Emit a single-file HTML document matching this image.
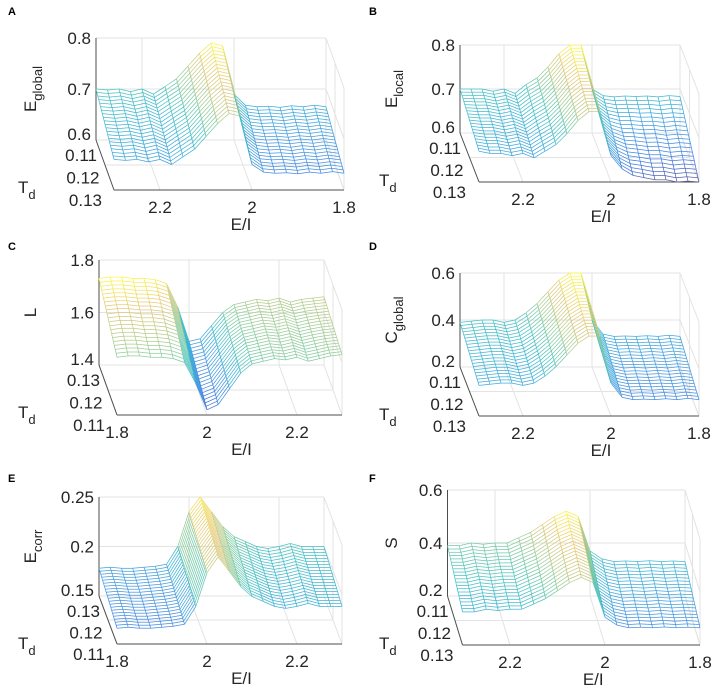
<!DOCTYPE html>
<html><head><meta charset="utf-8"><style>
html,body{margin:0;padding:0;background:#fff;}
svg{display:block;font-family:"Liberation Sans",Arial,sans-serif;}
.tk{font-size:17px;fill:#262626;}
.lbl{font-size:17px;fill:#262626;}
.pl{font-size:11px;font-weight:bold;fill:#000;}
</style></head><body>
<svg id="fig" width="722" height="698" viewBox="0 0 722 698"></svg>
<script>
const eiValues=[1.8,1.825,1.85,1.875,1.9,1.925,1.95,1.975,2.0,2.025,2.05,2.075,2.1,2.125,2.15,2.175,2.2,2.225,2.25,2.275,2.3];
const tdValues=[0.11,0.111,0.112,0.113,0.114,0.115,0.116,0.117,0.118,0.119,0.12,0.121,0.122,0.123,0.124,0.125,0.126,0.127,0.128,0.129,0.13];
const eiTicks=[1.8,2,2.2];
const tdTicks=[0.11,0.12,0.13];
// surface values at Td=0.11 and Td=0.13 for each panel (E/I ascending)
const zA011=[0.665,0.668,0.665,0.667,0.664,0.666,0.665,0.668,0.69,0.785,0.79,0.77,0.745,0.72,0.705,0.69,0.70,0.695,0.70,0.698,0.70];
const zA013=[0.633,0.636,0.633,0.635,0.632,0.634,0.633,0.635,0.65,0.745,0.75,0.73,0.705,0.68,0.665,0.65,0.66,0.655,0.66,0.658,0.66];
const zB011=[0.683,0.685,0.682,0.684,0.683,0.684,0.682,0.685,0.70,0.80,0.80,0.78,0.75,0.725,0.71,0.69,0.70,0.695,0.70,0.70,0.70];
const zB013=[0.60,0.602,0.60,0.605,0.605,0.61,0.615,0.63,0.66,0.76,0.76,0.74,0.71,0.685,0.67,0.655,0.665,0.66,0.665,0.665,0.67];
const zC013=[1.73,1.735,1.735,1.73,1.73,1.725,1.71,1.62,1.49,1.50,1.55,1.60,1.63,1.64,1.65,1.645,1.655,1.64,1.65,1.655,1.66];
const zC011=[1.62,1.625,1.625,1.62,1.62,1.615,1.60,1.52,1.42,1.44,1.50,1.56,1.595,1.605,1.615,1.61,1.62,1.605,1.615,1.625,1.63];
const zD011=[0.33,0.335,0.33,0.333,0.33,0.332,0.33,0.34,0.40,0.60,0.60,0.57,0.52,0.47,0.43,0.40,0.39,0.40,0.40,0.395,0.39];
const zD013=[0.27,0.275,0.27,0.273,0.27,0.272,0.27,0.28,0.34,0.54,0.54,0.51,0.46,0.41,0.37,0.34,0.33,0.34,0.34,0.335,0.33];
const zE013=[0.178,0.179,0.178,0.178,0.179,0.18,0.182,0.20,0.235,0.25,0.235,0.22,0.21,0.205,0.20,0.198,0.20,0.203,0.20,0.20,0.20];
const zE011=[0.166,0.167,0.166,0.166,0.167,0.168,0.170,0.188,0.222,0.238,0.223,0.208,0.198,0.193,0.188,0.186,0.188,0.191,0.188,0.188,0.188];
const zF011=[0.33,0.332,0.33,0.333,0.33,0.332,0.33,0.34,0.37,0.50,0.52,0.50,0.47,0.44,0.42,0.40,0.40,0.395,0.40,0.39,0.39];
const zF013=[0.265,0.267,0.265,0.268,0.265,0.267,0.265,0.275,0.305,0.435,0.455,0.435,0.405,0.375,0.355,0.335,0.335,0.33,0.335,0.325,0.325];
const zTicksA=[0.6,0.7,0.8], zTicksB=[0.6,0.7,0.8], zTicksC=[1.4,1.6,1.8], zTicksD=[0.2,0.4,0.6], zTicksE=[0.15,0.2,0.25], zTicksF=[0.2,0.4,0.6];

const NS="http://www.w3.org/2000/svg";
const svg=document.getElementById('fig');
function mk(tag,attrs,parent){const e=document.createElementNS(NS,tag);for(const k in attrs)e.setAttribute(k,attrs[k]);(parent||svg).appendChild(e);return e;}
const parula=[[53,42,135],[15,92,221],[18,125,216],[7,156,207],[21,177,180],[89,189,140],[165,190,107],[225,185,82],[249,251,14]];
function cmap(v){v=Math.max(0,Math.min(1,v));const p=v*8,i=Math.min(7,Math.floor(p)),f=p-i;const a=parula[i],b=parula[i+1];
 return 'rgb('+a.map((c,k)=>{const c0=c+(b[k]-c)*f;return Math.round(c0+(255-c0)*0.22);}).join(',')+')';}

const panels=[
 {id:'a',letter:'A',lx:8,ly:15,z011:zA011,z013:zA013,zt:zTicksA,zlab:'E',zsub:'global',rev:true,x0:234,sx:460,floorY:140,topY:38,dx:18,dy:50,tdBack:0.11},
 {id:'b',letter:'B',lx:369,ly:15,z011:zB011,z013:zB013,zt:zTicksB,zlab:'E',zsub:'local',rev:true,x0:592,sx:440,floorY:133,topY:45,dx:19,dy:49,tdBack:0.11},
 {id:'c',letter:'C',lx:8,ly:250,z011:zC011,z013:zC013,zt:zTicksC,zlab:'L',zsub:'',rev:false,x0:99,sx:450,floorY:365,topY:260,dx:18,dy:50,tdBack:0.13},
 {id:'d',letter:'D',lx:369,ly:250,z011:zD011,z013:zD013,zt:zTicksD,zlab:'C',zsub:'global',rev:true,x0:592,sx:440,floorY:367,topY:273,dx:19,dy:49,tdBack:0.11},
 {id:'e',letter:'E',lx:8,ly:482,z011:zE011,z013:zE013,zt:zTicksE,zlab:'E',zsub:'corr',rev:false,x0:99,sx:450,floorY:596,topY:497,dx:18,dy:48,tdBack:0.13},
 {id:'f',letter:'F',lx:369,ly:482,z011:zF011,z013:zF013,zt:zTicksF,zlab:'S',zsub:'',rev:true,x0:590,sx:475,floorY:596,topY:490,dx:15,dy:49,tdBack:0.11}
];

panels.forEach(P=>{
 const g=mk('g',{});
 
 
 const eMin=eiValues[0],eMax=eiValues[eiValues.length-1];
 const zMin=P.zt[0],zMax=P.zt[P.zt.length-1];
 const xE=e=>P.rev?P.x0+(2.0-e)*P.sx:P.x0+(e-1.8)*P.sx;
 const yZ=z=>P.floorY-(z-zMin)/(zMax-zMin)*(P.floorY-P.topY);
 const tT=td=>Math.abs(td-P.tdBack)/(tdValues[tdValues.length-1]-tdValues[0]);
 const proj=(e,td,z)=>{const t=tT(td);return [xE(e)+t*P.dx,yZ(z)+t*P.dy];};
 const xl=Math.min(xE(eMin),xE(eMax)), xr=Math.max(xE(eMin),xE(eMax));
 const grid=mk('g',{stroke:'#e3e3e3','stroke-width':1,fill:'none'},g);
 
 
 P.zt.forEach(z=>{mk('line',{x1:xl,y1:yZ(z),x2:xr,y2:yZ(z)},grid);
   mk('line',{x1:xr,y1:yZ(z),x2:xr+P.dx,y2:yZ(z)+P.dy},grid);});
 eiTicks.forEach(e=>{const x=xE(e);mk('line',{x1:x,y1:P.topY,x2:x,y2:P.floorY},grid);
   mk('line',{x1:x,y1:P.floorY,x2:x+P.dx,y2:P.floorY+P.dy},grid);});
 tdTicks.forEach(td=>{const t=tT(td);mk('line',{x1:xl+t*P.dx,y1:P.floorY+t*P.dy,x2:xr+t*P.dx,y2:P.floorY+t*P.dy},grid);
   mk('line',{x1:xr+t*P.dx,y1:P.floorY+t*P.dy,x2:xr+t*P.dx,y2:P.topY+t*P.dy},grid);});
 mk('line',{x1:xr,y1:P.topY,x2:xr,y2:P.floorY},grid);
 const ax=mk('g',{stroke:'#4d4d4d','stroke-width':1},g);
 
 
 mk('line',{x1:xl,y1:P.topY,x2:xl,y2:P.floorY},ax);
 mk('line',{x1:xl,y1:P.floorY,x2:xl+P.dx,y2:P.floorY+P.dy},ax);
 mk('line',{x1:xl+P.dx,y1:P.floorY+P.dy,x2:xr+P.dx,y2:P.floorY+P.dy},ax);
 const mesh=mk('g',{'stroke-width':0.75,fill:'none'},g);
 
 
 const zv=(i,j)=>{const f=(tdValues[j]-0.11)/0.02;return P.z011[i]+(P.z013[i]-P.z011[i])*f;};
 let hi=-1e9;
 for(let i=0;i<eiValues.length;i++)for(let j=0;j<tdValues.length;j++)hi=Math.max(hi,zv(i,j));
 const lo=zMin;
 const col=z=>cmap((z-lo)/(hi-lo));
 const jOrder=tdValues.map((_,j)=>j).sort((a,b)=>tT(tdValues[a])-tT(tdValues[b]));
 jOrder.forEach(j=>{
   for(let i=0;i<eiValues.length-1;i++){
     const a=proj(eiValues[i],tdValues[j],zv(i,j)),b=proj(eiValues[i+1],tdValues[j],zv(i+1,j));
     mk('line',{x1:a[0].toFixed(1),y1:a[1].toFixed(1),x2:b[0].toFixed(1),y2:b[1].toFixed(1),stroke:col((zv(i,j)+zv(i+1,j))/2)},mesh);
   }
 });
 for(let i=0;i<eiValues.length;i++){
   for(let k=0;k<jOrder.length-1;k++){const j1=jOrder[k],j2=jOrder[k+1];
     const a=proj(eiValues[i],tdValues[j1],zv(i,j1)),b=proj(eiValues[i],tdValues[j2],zv(i,j2));
     mk('line',{x1:a[0].toFixed(1),y1:a[1].toFixed(1),x2:b[0].toFixed(1),y2:b[1].toFixed(1),stroke:col((zv(i,j1)+zv(i,j2))/2)},mesh);
   }
 }
 P.zt.forEach((z,k)=>{const t=mk('text',{x:xl-5,y:yZ(z)+6-(k===0?6:0),'text-anchor':'end',class:'tk'},g);t.textContent=String(z);
   
   });
 tdTicks.forEach(td=>{const t0=tT(td);const t=mk('text',{x:xl+t0*5+1,y:P.floorY+t0*P.dy*0.9+21,'text-anchor':'end',class:'tk'},g);t.textContent=td.toFixed(2);
   
   });
 eiTicks.forEach(e=>{const t=mk('text',{x:xE(e)+P.dx,y:P.floorY+P.dy+23,'text-anchor':'middle',class:'tk'},g);t.textContent=String(e);
   
   });
 const ex=mk('text',{x:(xl+xr)/2+P.dx+12,y:P.floorY+P.dy+40,'text-anchor':'middle',class:'lbl'},g);ex.textContent='E/I';
 
 
 const tdl=mk('text',{x:P.lx+10,y:P.floorY+53,class:'lbl'},g);
 
 
 tdl.innerHTML='T<tspan dy="6" font-size="13">d</tspan>';
 const cy=(P.floorY+P.topY)/2, cx=P.lx+28;
 const zl=mk('text',{x:cx,y:cy,transform:'rotate(-90 '+cx+' '+cy+')','text-anchor':'middle',class:'lbl'},g);
 
 
 zl.innerHTML=P.zlab+(P.zsub?'<tspan dy="6" font-size="13">'+P.zsub+'</tspan>':'');
 const pl=mk('text',{x:P.lx,y:P.ly,class:'pl'},g);pl.textContent=P.letter;
 
 
});
</script>
</body></html>
